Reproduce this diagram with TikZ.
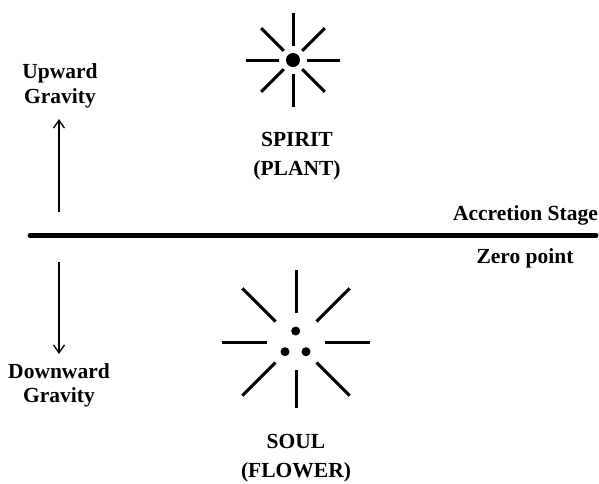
\documentclass[tikz,border=0pt]{standalone}
\usepackage{fontspec}
\setmainfont{Liberation Serif}
\usetikzlibrary{arrows.meta,calc}
\begin{document}
\begin{tikzpicture}[x=1pt,y=-1pt,
  lbl/.style={font=\fontsize{21.5}{25}\selectfont\bfseries, inner sep=0pt, align=center, anchor=base},
  ray/.style={line width=3pt},
  arr/.style={line width=1.3pt, -{Straight Barb[length=8pt,width=11pt]}}]
\useasboundingbox (0,0) rectangle (599,483);
% top sun
\coordinate (s1) at (293,60);
\foreach \a in {0,90,180,270} \draw[ray] ($(s1)+(\a:14)$) -- ($(s1)+(\a:47)$);
\foreach \a in {45,135,225,315} \draw[ray] ($(s1)+(\a:13)$) -- ($(s1)+(\a:45)$);
\fill (s1) circle (7);
% bottom sun
\coordinate (s2) at (296,342);
\foreach \a in {0,180} \draw[ray] ($(s2)+(\a:29)$) -- ($(s2)+(\a:74)$);
\draw[ray] ($(s2)+(0,-29)$) -- ($(s2)+(0,-72)$);
\draw[ray] ($(s2)+(0,28)$) -- ($(s2)+(0,66)$);
\foreach \a in {45,135,225,315} \draw[ray] ($(s2)+(\a:29)$) -- ($(s2)+(\a:76)$);
\fill (295.7,331) circle (4.5) (285,351.7) circle (4.5) (306,351.7) circle (4.5);
% labels
\node[lbl, font=\fontsize{21.5}{28.5}\selectfont\bfseries] (spirit) at (297,175) {SPIRIT\\(PLANT)};
\node[lbl, font=\fontsize{21.5}{29}\selectfont\bfseries] (soul) at (296,477) {SOUL\\(FLOWER)};
\node[lbl] (up) at (60,103) {Upward\\Gravity};
\node[lbl, font=\fontsize{21.5}{24}\selectfont\bfseries] (down) at (59,402) {Downward\\Gravity};
\node[lbl, anchor=base east] (acc) at (598,220) {Accretion Stage};
\node[lbl] (zero) at (525,263) {Zero point};
% line
\coordinate (l1) at (30,235.5);
\coordinate (l2) at (596,235.5);
\draw[line width=5pt, line cap=round] (l1) -- (l2);
% arrows
\coordinate (ua) at (59,212);
\coordinate (ub) at (59,119);
\coordinate (da) at (59,262);
\coordinate (db) at (59,354);
\draw[arr] (ua) -- (ub);
\draw[arr] (da) -- (db);
\end{tikzpicture}
\end{document}
